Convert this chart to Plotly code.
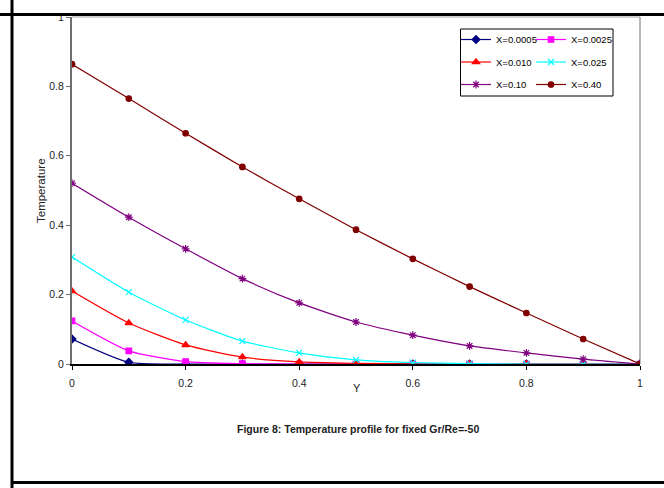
import plotly.graph_objects as go

y_pos = [0, 0.1, 0.2, 0.3, 0.4, 0.5, 0.6, 0.7, 0.8, 0.9, 1.0]

t_0005 = [0.072, 0.005, 0.0, 0.0, 0.0, 0.0, 0.0, 0.0, 0.0, 0.0, 0.0]
t_0025 = [0.124, 0.038, 0.007, 0.001, 0.0, 0.0, 0.0, 0.0, 0.0, 0.0, 0.0]
t_010 = [0.210, 0.118, 0.055, 0.020, 0.006, 0.002, 0.0, 0.0, 0.0, 0.0, 0.0]
t_025 = [0.308, 0.207, 0.127, 0.066, 0.032, 0.012, 0.004, 0.001, 0.0, 0.0, 0.0]
t_10 = [0.521, 0.423, 0.332, 0.246, 0.176, 0.121, 0.083, 0.052, 0.032, 0.014, 0.0]
t_40 = [0.864, 0.765, 0.665, 0.568, 0.476, 0.387, 0.303, 0.223, 0.147, 0.072, 0.0]

series_names = ["X=0.0005", "X=0.0025", "X=0.010", "X=0.025", "X=0.10", "X=0.40"]
series_vals = [t_0005, t_0025, t_010, t_025, t_10, t_40]
colors = ["#000080", "#FF00FF", "#FF0000", "#00FFFF", "#800080", "#800000"]
symbols = ["diamond", "square", "triangle-up", "x-thin-open", "asterisk-open", "circle"]
sizes = [6, 5.5, 6.5, 6, 6.5, 5.5]
legend_col = ["legend", "legend2", "legend", "legend2", "legend", "legend2"]

x_ticks = [0, 0.2, 0.4, 0.6, 0.8, 1]
y_ticks = [0, 0.2, 0.4, 0.6, 0.8, 1]

W, H = 664, 488
L, R, T, B = 72, 640, 17, 364

fig = go.Figure()
for i, (name, vals, c, s, sz, lg) in enumerate(zip(series_names, series_vals, colors, symbols, sizes, legend_col)):
    fig.add_trace(go.Scatter(
        x=y_pos, y=vals, name=name, mode="lines+markers", legend=lg, legendgroup="g%d" % i,
        line=dict(color=c, width=1.2, shape="spline", smoothing=0.6),
        marker=dict(color=c, symbol=s, size=sz, line=dict(color=c, width=1.2)),
    ))

font = "Liberation Sans, Arial, sans-serif"
leg_font = dict(family=font, size=9.5, color="black")

fig.update_layout(
    width=W, height=H,
    margin=dict(l=0, r=0, t=0, b=0, autoexpand=False),
    paper_bgcolor="white", plot_bgcolor="white",
    font=dict(family=font, size=10, color="black"),
    showlegend=True,
    legend=dict(
        x=456 / W, y=1 - 25 / H, xanchor="left", yanchor="top", orientation="v",
        bgcolor="rgba(0,0,0,0)", borderwidth=0, font=leg_font, tracegroupgap=3.5,
    ),
    legend2=dict(
        x=531 / W, y=1 - 25 / H, xanchor="left", yanchor="top", orientation="v",
        bgcolor="rgba(0,0,0,0)", borderwidth=0, font=leg_font, tracegroupgap=3.5,
    ),
    xaxis=dict(
        domain=[L / W, R / W], range=[0, 1], tickvals=x_ticks,
        ticktext=[str(v) if v not in (0, 1) else str(int(v)) for v in x_ticks],
        showgrid=False, zeroline=False, showline=True, linecolor="black", linewidth=1.5,
        ticks="outside", ticklen=4, tickcolor="black", tickwidth=1, ticklabelstandoff=5,
        tickfont=dict(family=font, size=10.5, color="#222"),
    ),
    yaxis=dict(
        domain=[1 - B / H, 1 - T / H], range=[0, 1], tickvals=y_ticks,
        ticktext=[str(v) if v not in (0, 1) else str(int(v)) for v in y_ticks],
        showgrid=False, zeroline=False, showline=True, linecolor="#6e6e6e", linewidth=2,
        ticks="outside", ticklen=4, tickcolor="#6e6e6e", tickwidth=1,
        tickfont=dict(family=font, size=10.5, color="#222"),
    ),
    shapes=[
        # plot area border (top and right)
        dict(type="line", xref="paper", yref="paper", x0=L / W, x1=R / W, y0=1 - T / H, y1=1 - T / H,
             line=dict(color="#a0a0a0", width=1), layer="below"),
        dict(type="line", xref="paper", yref="paper", x0=R / W, x1=R / W, y0=1 - T / H, y1=1 - B / H,
             line=dict(color="#a0a0a0", width=1.5), layer="below"),
        # legend frame
        dict(type="rect", xref="paper", yref="paper", x0=460.5 / W, x1=613 / W, y0=1 - 96 / H, y1=1 - 29 / H,
             fillcolor="white", line=dict(color="black", width=1), layer="below"),
        # white cover above the page line
        dict(type="rect", xref="paper", yref="paper", x0=0, x1=1, y0=1 - 14 / H, y1=1,
             fillcolor="white", line=dict(width=0), layer="above"),
        # page border lines
        dict(type="line", xref="paper", yref="paper", x0=0, x1=1, y0=1 - 14.5 / H, y1=1 - 14.5 / H,
             line=dict(color="black", width=3), layer="above"),
        dict(type="line", xref="paper", yref="paper", x0=12 / W, x1=12 / W, y0=0, y1=1,
             line=dict(color="black", width=3), layer="above"),
        dict(type="line", xref="paper", yref="paper", x0=12 / W, x1=1, y0=1 - 482.5 / H, y1=1 - 482.5 / H,
             line=dict(color="black", width=3), layer="above"),
    ],
    annotations=[
        dict(text="Temperature", x=41 / W, y=1 - 191 / H, xref="paper", yref="paper",
             textangle=-90, showarrow=False, font=dict(family=font, size=11.5, color="#222"),
             xanchor="center", yanchor="middle"),
        dict(text="Y", x=357 / W, y=1 - 388 / H, xref="paper", yref="paper",
             showarrow=False, font=dict(family=font, size=11, color="#222"),
             xanchor="center", yanchor="middle"),
        dict(text="<b>Figure 8: Temperature profile for fixed Gr/Re=-50</b>", x=358 / W, y=1 - 429 / H,
             xref="paper", yref="paper", showarrow=False,
             font=dict(family=font, size=10.5, color="#222"), xanchor="center", yanchor="middle"),
    ],
)

fig.write_html("out.html", config={"displayModeBar": False},
               post_script="document.body.style.margin='0px';document.body.style.overflow='hidden';")
